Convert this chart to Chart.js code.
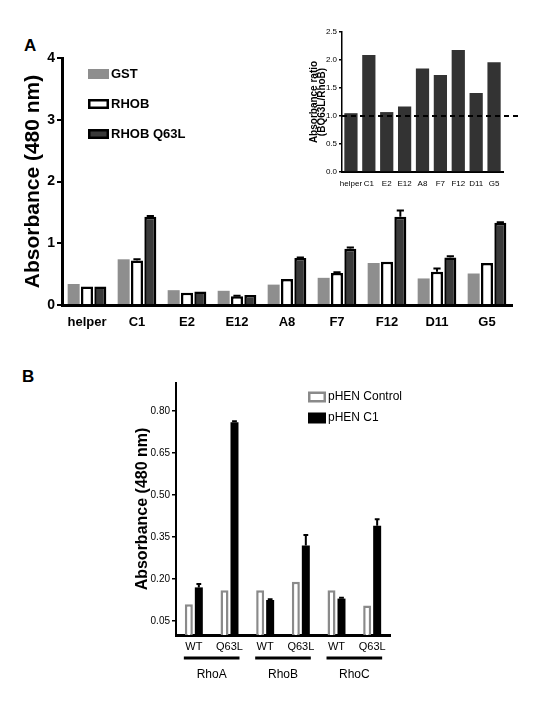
<!DOCTYPE html>
<html>
<head>
<meta charset="utf-8">
<script src="https://cdn.jsdelivr.net/npm/chart.js@4.4.0/dist/chart.umd.min.js"></script>
<style>
  body { margin: 0; background: #fff; width: 540px; height: 720px; position: relative; overflow: hidden; }
  .box { position: absolute; }
  .box canvas { display: block; }
  .panel { position: absolute; font: bold 17px "Liberation Sans", Arial, sans-serif; }
</style>
</head>
<body>
<div class="panel" style="left:24px; top:36px;">A</div>
<div class="panel" style="left:22px; top:367px;">B</div>
<div class="box" style="left:0; top:0;"><canvas id="mainChart" width="540" height="350"></canvas></div>
<div class="box" style="left:260px; top:0;"><canvas id="insetChart" width="280" height="220"></canvas></div>
<div class="box" style="left:100px; top:370px;"><canvas id="rhoChart" width="440" height="330"></canvas></div>

<script>
// panel A
const clones = ['helper', 'C1', 'E2', 'E12', 'A8', 'F7', 'F12', 'D11', 'G5'];
const gstValues = [0.34, 0.74, 0.24, 0.23, 0.33, 0.44, 0.68, 0.43, 0.51];
const rhobValues = [0.30, 0.72, 0.20, 0.14, 0.42, 0.52, 0.70, 0.54, 0.68];
const q63lValues = [0.30, 1.43, 0.22, 0.16, 0.76, 0.91, 1.43, 0.77, 1.33];
const rhobErrors = [0, 0.02, 0, 0.01, 0, 0.01, 0, 0.05, 0];
const q63lErrors = [0, 0.01, 0, 0, 0.01, 0.02, 0.10, 0.02, 0.01];

// inset: Q63L / RhoB ratio
const ratioValues = [1.05, 2.09, 1.07, 1.17, 1.85, 1.73, 2.18, 1.41, 1.96];
const ratioBaseline = 1.0;

// panel B
const rhoGroups = ['RhoA', 'RhoB', 'RhoC'];
const rhoForms = ['WT', 'Q63L', 'WT', 'Q63L', 'WT', 'Q63L'];
const controlValues = [0.11, 0.16, 0.16, 0.19, 0.16, 0.105];
const c1Values = [0.17, 0.76, 0.125, 0.32, 0.13, 0.39];
const c1Errors = [0.012, 0.003, 0.003, 0.037, 0.003, 0.023];
const rhoTicks = [0.05, 0.20, 0.35, 0.50, 0.65, 0.80];

const NARROW = '"Liberation Sans Narrow", "Liberation Sans", Arial, sans-serif';
const SANS = '"Liberation Sans", Arial, sans-serif';

const errorBars = {
    id: 'errorBars',
    afterDatasetsDraw(chart) {
        const ctx = chart.ctx;
        const y = chart.scales.y;
        chart.data.datasets.forEach((ds, i) => {
            if (!ds.errors) return;
            chart.getDatasetMeta(i).data.forEach((bar, j) => {
                const err = ds.errors[j];
                if (!err) return;
                const top = y.getPixelForValue(ds.data[j] + err);
                const half = bar.width * 0.3;
                ctx.save();
                ctx.strokeStyle = '#000';
                ctx.lineWidth = 2;
                ctx.beginPath();
                ctx.moveTo(bar.x, bar.y);
                ctx.lineTo(bar.x, top);
                ctx.moveTo(bar.x - half, top);
                ctx.lineTo(bar.x + half, top);
                ctx.stroke();
                ctx.restore();
            });
        });
    }
};

const boxLegend = {
    id: 'boxLegend',
    afterDraw(chart, args, opts) {
        const ctx = chart.ctx;
        ctx.save();
        chart.data.datasets.forEach((ds, i) => {
            const y = opts.top + i * opts.gap;
            const x = opts.left;
            ctx.fillStyle = ds.backgroundColor;
            ctx.fillRect(x, y - opts.boxH / 2, opts.boxW, opts.boxH);
            if (ds.borderWidth) {
                ctx.lineWidth = ds.borderWidth;
                ctx.strokeStyle = ds.borderColor;
                ctx.strokeRect(x + ds.borderWidth / 2, y - opts.boxH / 2 + ds.borderWidth / 2,
                    opts.boxW - ds.borderWidth, opts.boxH - ds.borderWidth);
            }
            ctx.fillStyle = '#000';
            ctx.font = opts.font;
            ctx.textBaseline = 'middle';
            ctx.fillText(ds.label, x + opts.boxW + 2, y);
        });
        ctx.restore();
    }
};

const refLine = {
    id: 'refLine',
    afterDatasetsDraw(chart, args, opts) {
        const {ctx, chartArea, scales} = chart;
        const y = scales.y.getPixelForValue(opts.value);
        ctx.save();
        ctx.setLineDash([5, 4]);
        ctx.lineWidth = 2;
        ctx.strokeStyle = '#000';
        ctx.beginPath();
        ctx.moveTo(chartArea.left, y);
        ctx.lineTo(chartArea.right + opts.extend, y);
        ctx.stroke();
        ctx.restore();
    }
};

const groupLabels = {
    id: 'groupLabels',
    afterDraw(chart, args, opts) {
        const {ctx, scales} = chart;
        const x = scales.x;
        const step = x.getPixelForValue(1) - x.getPixelForValue(0);
        ctx.save();
        rhoGroups.forEach((g, i) => {
            const x0 = x.getPixelForValue(i * 2) - step * 0.28;
            const x1 = x.getPixelForValue(i * 2 + 1) + step * 0.28;
            ctx.strokeStyle = '#000';
            ctx.lineWidth = 3;
            ctx.beginPath();
            ctx.moveTo(x0, opts.lineY);
            ctx.lineTo(x1, opts.lineY);
            ctx.stroke();
            ctx.fillStyle = '#000';
            ctx.font = '12px ' + NARROW;
            ctx.textAlign = 'center';
            ctx.textBaseline = 'middle';
            ctx.fillText(g, (x0 + x1) / 2, opts.textY);
        });
        ctx.restore();
    }
};

function mainChart() {
    new Chart(document.getElementById('mainChart'), {
        type: 'bar',
        data: {
            labels: clones,
            datasets: [
                { label: 'GST', data: gstValues, backgroundColor: '#8e8e8e', borderWidth: 0 },
                { label: 'RHOB', data: rhobValues, errors: rhobErrors, backgroundColor: '#ffffff', borderColor: '#000', borderWidth: 2.5 },
                { label: 'RHOB Q63L', data: q63lValues, errors: q63lErrors, backgroundColor: '#3a3a3a', borderColor: '#000', borderWidth: 2.5 }
            ]
        },
        options: {
            responsive: false,
            animation: false,
            layout: { padding: { left: 0, top: 58, right: 28, bottom: 15 } },
            datasets: { bar: { categoryPercentage: 0.8, barPercentage: 0.9 } },
            plugins: {
                legend: { display: false },
                tooltip: { enabled: false },
                boxLegend: { left: 88, top: 74, gap: 30, boxW: 21, boxH: 10, font: 'bold 13px ' + NARROW }
            },
            scales: {
                x: {
                    grid: { display: false, drawTicks: false },
                    border: { color: '#000', width: 3 },
                    ticks: { color: '#000', padding: 10, autoSkip: false, maxRotation: 0, minRotation: 0,
                        font: { family: NARROW, size: 13, weight: 'bold' } },
                    afterFit(s) { s.height = 30; }
                },
                y: {
                    min: 0, max: 4,
                    ticks: { stepSize: 1, color: '#000', padding: 2, font: { family: NARROW, size: 14, weight: 'bold' } },
                    grid: { drawOnChartArea: false, tickLength: 5, color: '#000', lineWidth: 2 },
                    border: { color: '#000', width: 3 },
                    title: { display: true, text: 'Absorbance (480 nm)', color: '#000', padding: { top: 21, bottom: 0 },
                        font: { family: SANS, size: 21, weight: 'bold' } },
                    afterFit(s) { s.width = 62; }
                }
            }
        },
        plugins: [errorBars, boxLegend]
    });
}

function insetChart() {
    new Chart(document.getElementById('insetChart'), {
        type: 'bar',
        data: {
            labels: clones,
            datasets: [{ label: 'ratio', data: ratioValues, backgroundColor: '#333333', borderWidth: 0 }]
        },
        options: {
            responsive: false,
            animation: false,
            layout: { padding: { left: 0, top: 32, right: 37, bottom: 28 } },
            datasets: { bar: { categoryPercentage: 1, barPercentage: 0.74 } },
            plugins: {
                legend: { display: false },
                tooltip: { enabled: false },
                refLine: { value: ratioBaseline, extend: 19 }
            },
            scales: {
                x: {
                    grid: { display: false, drawTicks: false },
                    border: { color: '#000', width: 2 },
                    ticks: { color: '#000', padding: 7, autoSkip: false, maxRotation: 0, font: { family: NARROW, size: 8 } },
                    afterFit(s) { s.height = 20; }
                },
                y: {
                    min: 0, max: 2.5,
                    ticks: { stepSize: 0.5, color: '#000', padding: 2, font: { family: NARROW, size: 8 },
                        callback: v => v.toFixed(1) },
                    grid: { drawOnChartArea: false, tickLength: 3, color: '#000', lineWidth: 1.5 },
                    border: { color: '#000', width: 1.5 },
                    title: { display: true, text: ['Absorbance ratio', '(BQ63L/RhoB)'], color: '#000',
                        padding: { top: 50, bottom: 0 }, font: { family: SANS, size: 10, weight: 'bold', lineHeight: 0.8 } },
                    afterFit(s) { s.width = 82; }
                }
            }
        },
        plugins: [refLine]
    });
}

function rhoChart() {
    new Chart(document.getElementById('rhoChart'), {
        type: 'bar',
        data: {
            labels: rhoForms,
            datasets: [
                { label: 'pHEN Control', data: controlValues, backgroundColor: '#ffffff', borderColor: '#8a8a8a', borderWidth: 2.5 },
                { label: 'pHEN C1', data: c1Values, errors: c1Errors, backgroundColor: '#000000', borderWidth: 0 }
            ]
        },
        options: {
            responsive: false,
            animation: false,
            layout: { padding: { left: 0, top: 13, right: 150, bottom: 45 } },
            datasets: { bar: { categoryPercentage: 0.56, barPercentage: 0.8 } },
            plugins: {
                legend: { display: false },
                tooltip: { enabled: false },
                boxLegend: { left: 208, top: 27, gap: 21, boxW: 18, boxH: 11, font: '12px ' + NARROW },
                groupLabels: { lineY: 288, textY: 305 }
            },
            scales: {
                x: {
                    grid: { display: false, drawTicks: false },
                    border: { color: '#000', width: 3 },
                    ticks: { color: '#000', padding: 5, autoSkip: false, maxRotation: 0, font: { family: NARROW, size: 11 } },
                    afterFit(s) { s.height = 20; }
                },
                y: {
                    min: 0, max: 0.9,
                    afterBuildTicks(s) { s.ticks = rhoTicks.map(v => ({ value: v })); },
                    ticks: { color: '#000', padding: 2, font: { family: NARROW, size: 10 },
                        callback: v => v.toFixed(2) },
                    grid: { drawOnChartArea: false, tickLength: 4, color: '#000', lineWidth: 1.5 },
                    border: { color: '#000', width: 2 },
                    title: { display: true, text: 'Absorbance (480 nm)', color: '#000', padding: { top: 33, bottom: 0 },
                        font: { family: SANS, size: 16, weight: 'bold' } },
                    afterFit(s) { s.width = 76; }
                }
            }
        },
        plugins: [errorBars, boxLegend, groupLabels]
    });
}

mainChart();
insetChart();
rhoChart();
</script>
</body>
</html>
